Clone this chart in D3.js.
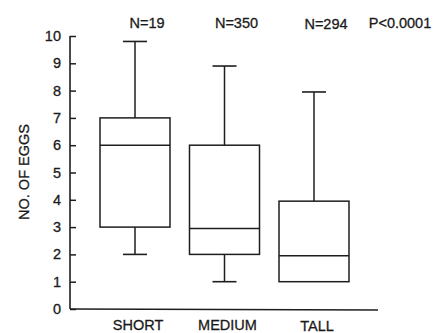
<!DOCTYPE html>
<html>
<head>
<meta charset="utf-8">
<script src="https://cdn.jsdelivr.net/npm/d3@7"></script>
<style>
  body { margin: 0; background: #fff; }
  text { font-family: "Liberation Sans", Arial, sans-serif; fill: #1a1a1a; stroke: #1a1a1a; stroke-width: 0.3; }
</style>
</head>
<body>
<svg width="436" height="333"></svg>
<script>
// categories and box statistics
var categories = ["SHORT", "MEDIUM", "TALL"];
var counts = ["N=19", "N=350", "N=294"];
var whiskerHigh = [9.8, 8.9, 7.95];
var q3 = [7, 6, 3.95];
var medians = [6, 2.95, 1.95];
var q1 = [3, 2, 1];
var whiskerLow = [2, 1, 1];
var yTicks = [0, 1, 2, 3, 4, 5, 6, 7, 8, 9, 10];
var pLabel = "P<0.0001";

var svg = d3.select("svg");
var ink = "#1e1e1e";

var y = d3.scaleLinear().domain([0, 10]).range([309, 36]);
var x = d3.scalePoint().domain(categories).range([135, 314]);
var boxW = 70, capW = 24;

// y axis, ticks pointing inward
var yAxis = svg.append("g").attr("transform", "translate(70,0)")
  .call(d3.axisRight(y).tickValues(yTicks).tickSize(6).tickFormat(""));
yAxis.select(".domain").remove();
yAxis.selectAll("line").attr("stroke", ink).attr("stroke-width", 1.5);

svg.append("line")
  .attr("x1", 70).attr("x2", 70)
  .attr("y1", y(10)).attr("y2", y(0))
  .attr("stroke", ink).attr("stroke-width", 1.6);

svg.append("line")
  .attr("x1", 70).attr("x2", 378)
  .attr("y1", y(0)).attr("y2", y(0) + 1)
  .attr("stroke", ink).attr("stroke-width", 1.6);

svg.selectAll(".ylab")
  .data(yTicks)
  .enter().append("text")
  .attr("class", "ylab")
  .attr("x", 61)
  .attr("y", function (d) { return y(d) + 5; })
  .attr("text-anchor", "end")
  .attr("font-size", 14.5)
  .text(function (d) { return d; });

svg.append("text")
  .attr("transform", "translate(29,172) rotate(-90)")
  .attr("text-anchor", "middle")
  .attr("font-size", 14.5)
  .text("NO. OF EGGS");

// boxes
var boxes = svg.selectAll(".box")
  .data(categories)
  .enter().append("g")
  .attr("class", "box");

boxes.append("line")
  .attr("x1", function (d) { return x(d); })
  .attr("x2", function (d) { return x(d); })
  .attr("y1", function (d, i) { return y(q3[i]); })
  .attr("y2", function (d, i) { return y(whiskerHigh[i]); })
  .attr("stroke", ink).attr("stroke-width", 1.5);

boxes.append("line")
  .attr("x1", function (d) { return x(d) - capW / 2; })
  .attr("x2", function (d) { return x(d) + capW / 2; })
  .attr("y1", function (d, i) { return y(whiskerHigh[i]); })
  .attr("y2", function (d, i) { return y(whiskerHigh[i]); })
  .attr("stroke", ink).attr("stroke-width", 1.6);

boxes.filter(function (d, i) { return whiskerLow[i] < q1[i]; })
  .each(function (d) {
    var i = categories.indexOf(d);
    var g = d3.select(this);
    g.append("line")
      .attr("x1", x(d)).attr("x2", x(d))
      .attr("y1", y(q1[i])).attr("y2", y(whiskerLow[i]))
      .attr("stroke", ink).attr("stroke-width", 1.5);
    g.append("line")
      .attr("x1", x(d) - capW / 2).attr("x2", x(d) + capW / 2)
      .attr("y1", y(whiskerLow[i])).attr("y2", y(whiskerLow[i]))
      .attr("stroke", ink).attr("stroke-width", 1.6);
  });

boxes.append("rect")
  .attr("x", function (d) { return x(d) - boxW / 2; })
  .attr("width", boxW)
  .attr("y", function (d, i) { return y(q3[i]); })
  .attr("height", function (d, i) { return y(q1[i]) - y(q3[i]); })
  .attr("fill", "none")
  .attr("stroke", ink).attr("stroke-width", 1.5);

boxes.append("line")
  .attr("x1", function (d) { return x(d) - boxW / 2; })
  .attr("x2", function (d) { return x(d) + boxW / 2; })
  .attr("y1", function (d, i) { return y(medians[i]); })
  .attr("y2", function (d, i) { return y(medians[i]); })
  .attr("stroke", ink).attr("stroke-width", 1.6);

// category labels
boxes.append("text")
  .attr("x", function (d) { return x(d) + 3; })
  .attr("y", function (d, i) { return i === 2 ? 330.5 : 329.5; })
  .attr("text-anchor", "middle")
  .attr("font-size", 14.5)
  .text(function (d) { return d; });

// counts above
boxes.append("text")
  .attr("x", function (d) { return x(d) + 12; })
  .attr("y", function (d, i) { return i === 2 ? 29 : 28; })
  .attr("text-anchor", "middle")
  .attr("font-size", 14.5)
  .text(function (d, i) { return counts[i]; });

svg.append("text")
  .attr("x", 400).attr("y", 28)
  .attr("text-anchor", "middle")
  .attr("font-size", 14.5)
  .text(pLabel);
</script>
</body>
</html>
